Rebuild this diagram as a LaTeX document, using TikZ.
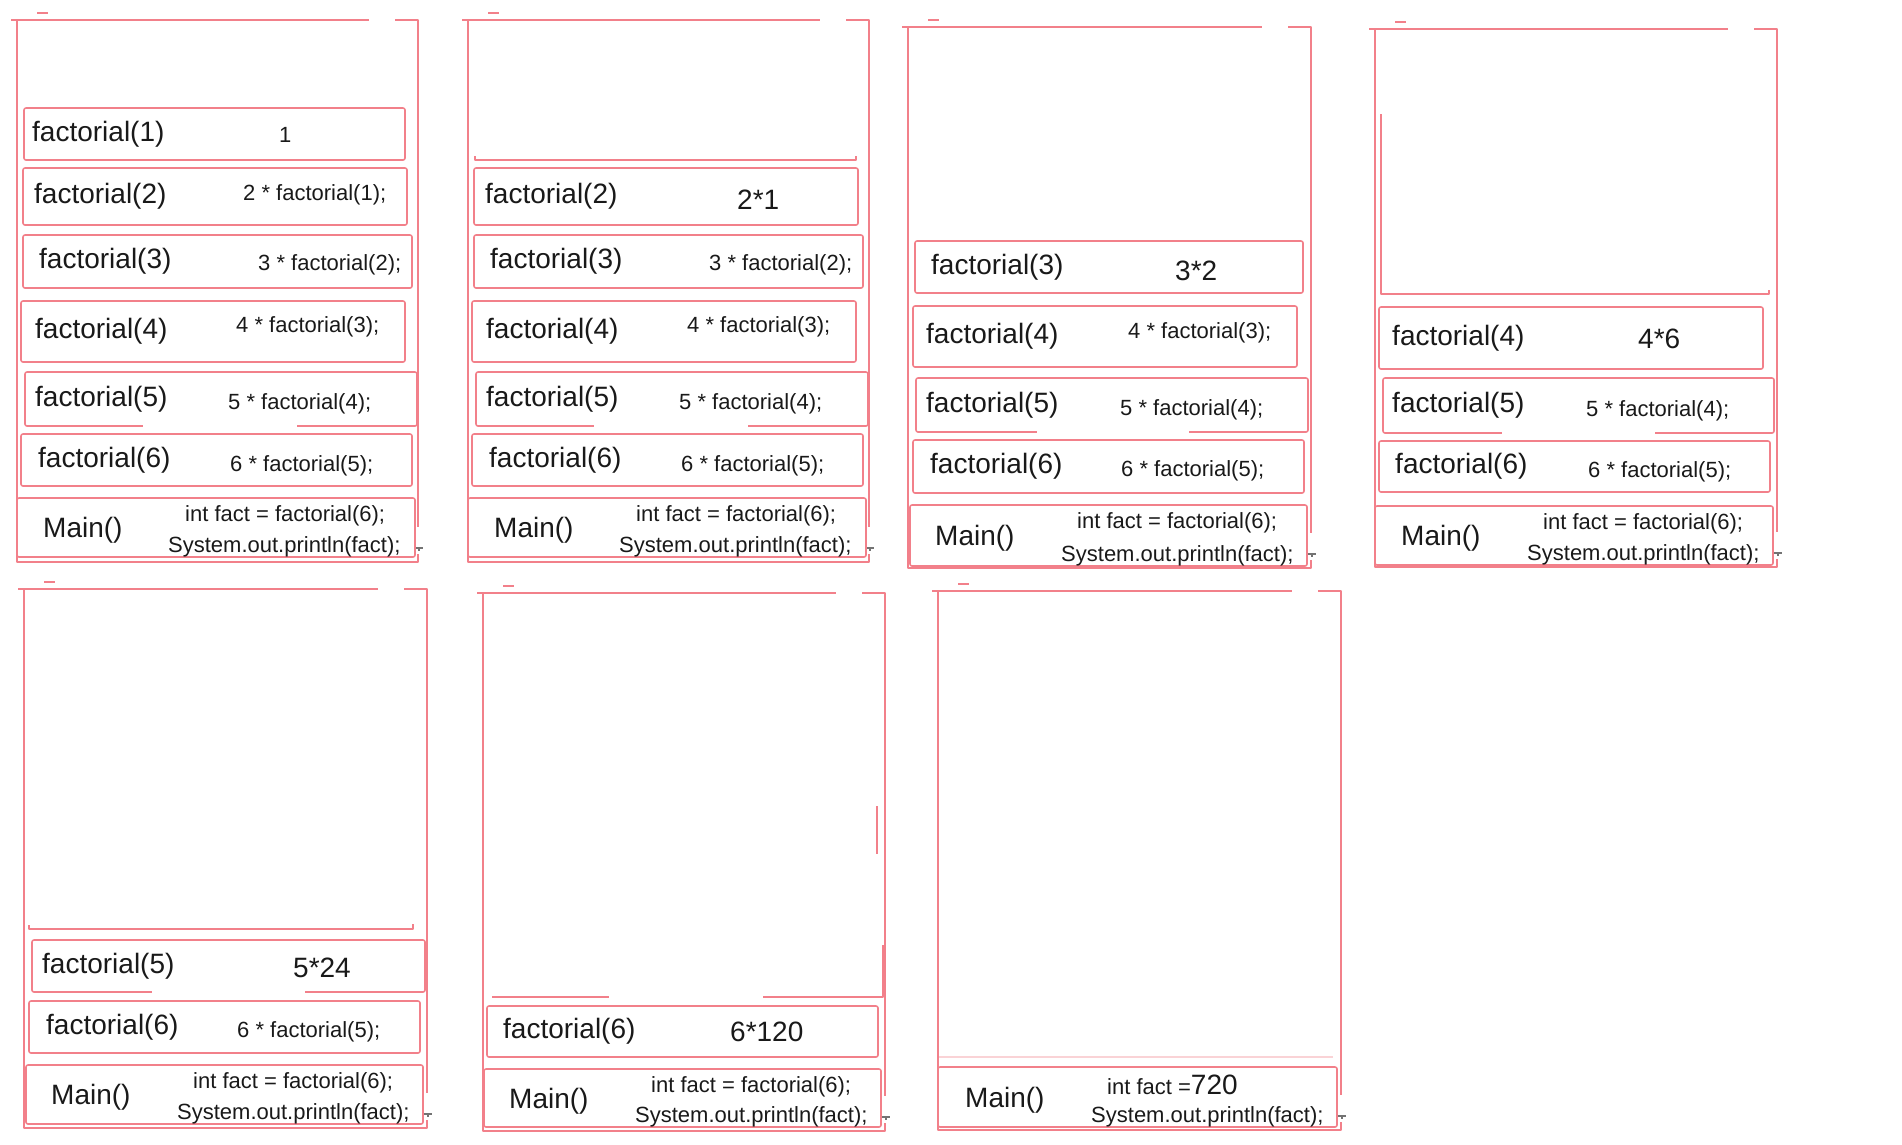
\documentclass[tikz,border=0pt]{standalone}
\usepackage{fontspec}
\setmainfont{Liberation Sans}
\usetikzlibrary{calc}
\definecolor{framered}{RGB}{242,128,138}
\newcommand{\resfont}{\fontsize{28}{32}\selectfont}
% outer frame of one stack picture: x1, y1, x2, y2
\newcommand{\stackframe}[4]{
	\draw[frame_line] ({#1-6},#2) -- ({#3-49},#2);
	\draw[frame_line] ({#3-23},#2) -- (#3,#2) -- (#3,{#4-35});
	\draw[frame_line] (#3,{#4-8}) -- (#3,#4) -- (#1,#4) -- (#1,#2);
	\draw[frame_line] ({#1+20},{#2-7}) -- ({#1+31},{#2-7});
	\draw[tick_mark] ({#3-4},{#4-14}) -- ({#3+5},{#4-14}) ({#3+1},{#4-14}) -- ({#3+1},{#4-11});
}
% one call: id, x1, y1, x2, y2, label shift, label, code position, code
\newcommand{\callrow}[9]{
	\node[call_box, minimum width={#4-#2}, minimum height={#5-#3}] (#1) at ({(#2+#4)/2},{(#3+#5)/2}) {};
	\node[call_label] (#1_l) at ($(#1.west)+(#6,0)$) {#7};
	\node[call_code] (#1_c) at (#8) {#9};
}
% main frame: id, x1, y1, x2, y2, label x, first line x, first line, second line x
\newcommand{\mainrow}[9]{
	\node[call_box, minimum width={#4-#2}, minimum height={#5-#3}] (#1) at ({(#2+#4)/2},{(#3+#5)/2}) {};
	\node[call_label] (#1_l) at (#6,{(#3+#5)/2+3}) {Main()};
	\node[call_code] (#1_c1) at (#7,{#3+18}) {#8};
	\node[call_code] (#1_c2) at (#9,{#5-10}) {System.out.println(fact);};
}
\begin{document}
\begin{tikzpicture}[x=1pt,y=-1pt,join=round]
		\tikzstyle{frame_line}=[draw=framered, line width=1.6];
		\tikzstyle{call_box}=[draw=framered, line width=1.6, rounded corners=2, inner sep=0, outer sep=0];
		\tikzstyle{call_label}=[anchor=west, inner sep=0, text=black!90, font=\fontsize{28}{32}\selectfont];
		\tikzstyle{call_code}=[anchor=west, inner sep=0, text=black!90, font=\fontsize{22}{26}\selectfont];
		\tikzstyle{gap_cut}=[draw=white, line width=3];
		\tikzstyle{tick_mark}=[draw=black!55, line width=1.2];
		
		\useasboundingbox (0,0) rectangle (1902,1144);
		
		% factorial(1) on top
		\stackframe{17}{20}{418}{562}
		\callrow{a1}{24}{108}{405}{160}{8}{factorial(1)}{279,135}{1}
		\callrow{a2}{23}{168}{407}{225}{11}{factorial(2)}{243,195}{2 * factorial(1);}
		\callrow{a3}{23}{235}{412}{288}{16}{factorial(3)}{258,265}{3 * factorial(2);}
		\callrow{a4}{21}{301}{405}{362}{14}{factorial(4)}{236,327}{4 * factorial(3);}
		\callrow{a5}{25}{372}{417}{426}{10}{factorial(5)}{228,404}{5 * factorial(4);}
		\draw[gap_cut] (143,426) -- (297,426);
		\callrow{a6}{21}{434}{412}{486}{17}{factorial(6)}{230,466}{6 * factorial(5);}
		\mainrow{a7}{17}{498}{415}{557}{43}{185}{int fact = factorial(6);}{168}
		
		% factorial(2) returns
		\stackframe{468}{20}{869}{562}
		\draw[frame_line] (475,156) -- (475,160) -- (856,160) -- (856,156);
		\callrow{b2}{474}{168}{858}{225}{11}{factorial(2)}{737,200}{\resfont 2*1}
		\callrow{b3}{474}{235}{863}{288}{16}{factorial(3)}{709,265}{3 * factorial(2);}
		\callrow{b4}{472}{301}{856}{362}{14}{factorial(4)}{687,327}{4 * factorial(3);}
		\callrow{b5}{476}{372}{868}{426}{10}{factorial(5)}{679,404}{5 * factorial(4);}
		\draw[gap_cut] (594,426) -- (748,426);
		\callrow{b6}{472}{434}{863}{486}{17}{factorial(6)}{681,466}{6 * factorial(5);}
		\mainrow{b7}{468}{498}{866}{557}{494}{636}{int fact = factorial(6);}{619}
		
		% factorial(3) returns
		\stackframe{908}{27}{1311}{568}
		\callrow{c3}{915}{241}{1303}{293}{16}{factorial(3)}{1175,271}{\resfont 3*2}
		\callrow{c4}{913}{306}{1297}{367}{13}{factorial(4)}{1128,333}{4 * factorial(3);}
		\callrow{c5}{916}{378}{1308}{432}{10}{factorial(5)}{1120,410}{5 * factorial(4);}
		\draw[gap_cut] (1037,432) -- (1189,432);
		\callrow{c6}{913}{440}{1304}{493}{17}{factorial(6)}{1121,471}{6 * factorial(5);}
		\mainrow{c7}{910}{505}{1307}{566}{935}{1077}{int fact = factorial(6);}{1061}
		
		% factorial(4) returns
		\stackframe{1375}{29}{1777}{567}
		\draw[frame_line] (1381,114) -- (1381,294) -- (1769,294) -- (1769,290);
		\callrow{d4}{1379}{307}{1763}{369}{13}{factorial(4)}{1638,339}{\resfont 4*6}
		\callrow{d5}{1383}{378}{1774}{433}{9}{factorial(5)}{1586,411}{5 * factorial(4);}
		\draw[gap_cut] (1502,433) -- (1655,433);
		\callrow{d6}{1379}{441}{1770}{492}{16}{factorial(6)}{1588,472}{6 * factorial(5);}
		\mainrow{d7}{1375}{506}{1773}{565}{1401}{1543}{int fact = factorial(6);}{1527}
		
		% factorial(5) returns
		\stackframe{24}{589}{427}{1128}
		\draw[frame_line] (29,925) -- (29,929) -- (413,929) -- (413,924);
		\callrow{e5}{32}{940}{425}{992}{10}{factorial(5)}{293,968}{\resfont 5*24}
		\draw[gap_cut] (152,992) -- (305,992);
		\callrow{e6}{29}{1001}{420}{1053}{17}{factorial(6)}{237,1032}{6 * factorial(5);}
		\mainrow{e7}{26}{1065}{423}{1124}{51}{193}{int fact = factorial(6);}{177}
		
		% factorial(6) returns
		\stackframe{483}{593}{885}{1131}
		\draw[frame_line] (492,997) -- (609,997) (763,997) -- (883,997) -- (883,945) (877,806) -- (877,854);
		\callrow{f6}{487}{1006}{878}{1057}{16}{factorial(6)}{730,1032}{\resfont 6*120}
		\mainrow{f7}{484}{1069}{881}{1127}{509}{651}{int fact = factorial(6);}{635}
		
		% back in main
		\stackframe{938}{591}{1341}{1130}
		\draw[frame_line, opacity=0.35] (938,1057) -- (1333,1057);
		\mainrow{g7}{938}{1067}{1337}{1127}{965}{1107}{int fact =\resfont 720}{1091}
	\end{tikzpicture}
\end{document}
